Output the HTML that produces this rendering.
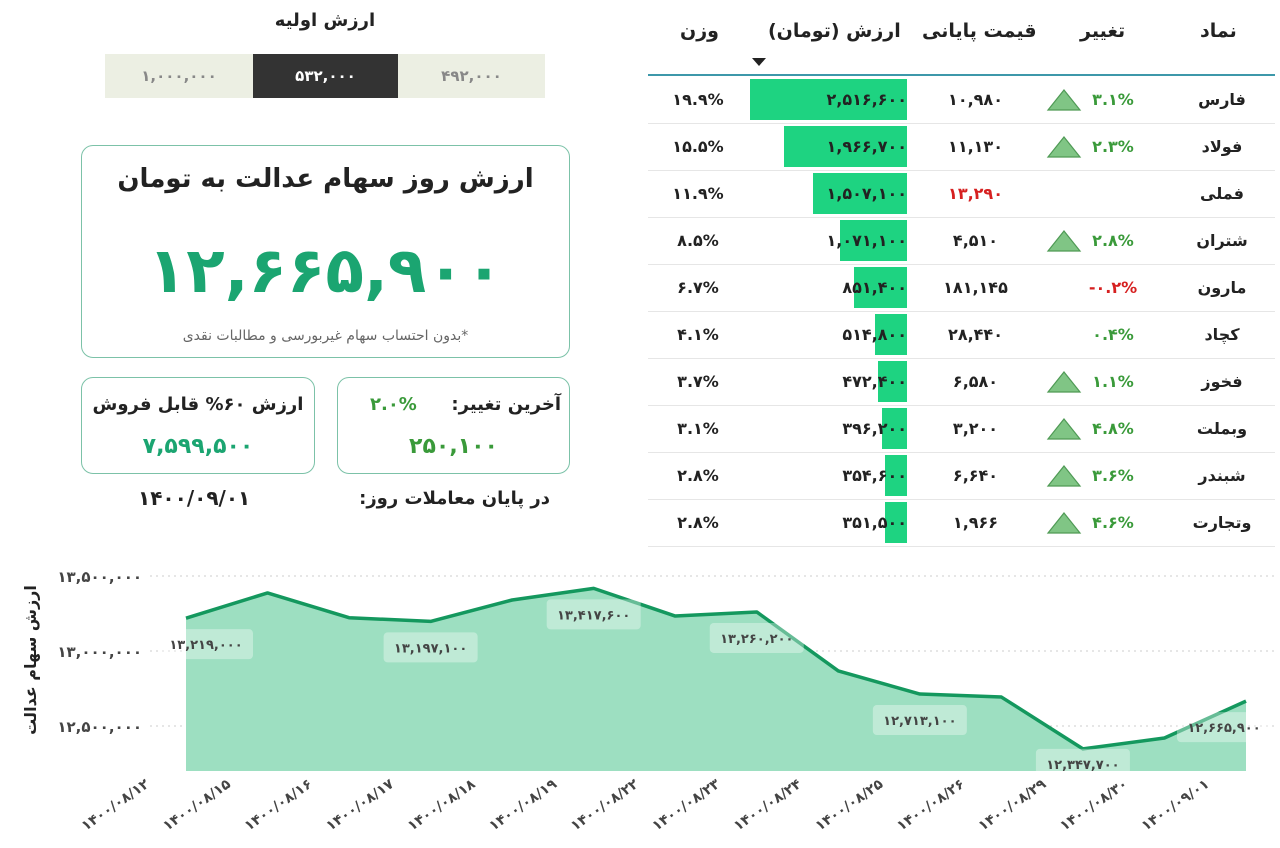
<!DOCTYPE html>
<html><head><meta charset="utf-8">
<style>
body{margin:0;width:1280px;height:848px;background:#fff;font-family:"DejaVu Sans","Liberation Sans",sans-serif;position:relative;overflow:hidden;color:#222}
.abs{position:absolute}
.c{text-align:center}
.seg{position:absolute;top:54px;height:44px;line-height:44px;text-align:center;font-size:15px;font-weight:bold}
.box{position:absolute;border:1.5px solid #7cc2a8;border-radius:12px;box-sizing:border-box}
.th{position:absolute;top:20px;font-size:19px;font-weight:bold;direction:rtl}
.row{position:absolute;left:648px;width:627px;height:47px;border-bottom:1px solid #e6e6e6}
.cell{position:absolute;top:0;height:47px;line-height:47px;font-size:16px;font-weight:bold;text-align:center;white-space:nowrap}
</style></head><body>
<div class="abs c" style="left:105px;width:440px;top:10px;font-size:18px;font-weight:bold">ارزش اولیه</div>
<div class="seg" style="left:105px;width:148px;background:#ecefe3;color:#888">۱,۰۰۰,۰۰۰</div>
<div class="seg" style="left:253px;width:145px;background:#333;color:#fff">۵۳۲,۰۰۰</div>
<div class="seg" style="left:398px;width:147px;background:#ecefe3;color:#888">۴۹۲,۰۰۰</div>

<div class="box" style="left:81px;top:145px;width:489px;height:213px">
 <div class="abs c" style="left:0;width:100%;top:18px;font-size:26px;font-weight:bold;direction:rtl">ارزش روز سهام عدالت به تومان</div>
 <div class="abs c" style="left:0;width:100%;top:88px;font-size:63px;font-weight:bold;color:#1ba571">۱۲,۶۶۵,۹۰۰</div>
 <div class="abs c" style="left:0;width:100%;top:182px;font-size:14px;color:#666;direction:rtl">*بدون احتساب سهام غیربورسی و مطالبات نقدی</div>
</div>
<div class="box" style="left:81px;top:377px;width:234px;height:97px">
 <div class="abs c" style="left:0;width:100%;top:16px;font-size:18px;font-weight:bold;direction:rtl">ارزش ۶۰% قابل فروش</div>
 <div class="abs c" style="left:0;width:100%;top:56px;font-size:22px;font-weight:bold;color:#1ba571">۷,۵۹۹,۵۰۰</div>
</div>
<div class="box" style="left:337px;top:377px;width:233px;height:97px">
 <div class="abs" style="right:8px;top:16px;font-size:18px;font-weight:bold;direction:rtl">آخرین تغییر:</div>
 <div class="abs" style="left:32px;top:16px;font-size:18px;font-weight:bold;color:#3a9a3a">۲.۰%</div>
 <div class="abs c" style="left:0;width:100%;top:56px;font-size:22px;font-weight:bold;color:#3a9a3a">۲۵۰,۱۰۰</div>
</div>
<div class="abs" style="left:138px;top:486px;font-size:20px;font-weight:bold">۱۴۰۰/۰۹/۰۱</div>
<div class="abs" style="left:320px;top:488px;width:230px;text-align:right;font-size:18px;font-weight:bold;direction:rtl;white-space:nowrap">در پایان معاملات روز:</div>

<div id="table">
<div class="th" style="left:1200px">نماد</div>
<div class="th" style="left:1080px">تغییر</div>
<div class="th" style="left:922px">قیمت پایانی</div>
<div class="th" style="left:768px">ارزش (تومان)</div>
<div class="th" style="left:680px">وزن</div>
<div class="abs" style="left:752px;top:58px;width:0;height:0;border-left:7px solid transparent;border-right:7px solid transparent;border-top:8px solid #222"></div>
<div class="abs" style="left:648px;top:74px;width:627px;height:2px;background:#3d98aa"></div>
</div>

<svg class="abs" style="left:0;top:550px" width="1280" height="298" id="chart"></svg>

<script>
const fa=s=>String(s).replace(/\d/g,d=>'۰۱۲۳۴۵۶۷۸۹'[d]);
const fmt=n=>fa(n.toLocaleString('en-US'));
// table data
const symbols=['فارس','فولاد','فملی','شتران','مارون','کچاد','فخوز','وبملت','شبندر','وتجارت'];
const changes=['3.1%','2.3%','','2.8%','-0.2%','0.4%','1.1%','4.8%','3.6%','4.6%'];
const upArrow=[1,1,0,1,0,0,1,1,1,1];
const closes=['10,980','11,130','13,290','4,510','181,145','28,440','6,580','3,200','6,640','1,966'];
const closeRed=[0,0,1,0,0,0,0,0,0,0];
const values=[2516600,1966700,1507100,1071100,851400,514800,472400,396200,354600,351500];
const weights=['19.9%','15.5%','11.9%','8.5%','6.7%','4.1%','3.7%','3.1%','2.8%','2.8%'];

const tbl=document.getElementById('table');
symbols.forEach((s,i)=>{
 const r=document.createElement('div');r.className='row';r.style.top=(76+47*i)+'px';
 
 
 const bw=values[i]*157/2516600;
 const neg=changes[i].startsWith('-');
 const chg=neg?'-'+fa(changes[i].slice(1)):fa(changes[i]);
 r.innerHTML=
 `<div class="cell" style="left:534px;width:80px;direction:rtl">${s}</div>`+
 `<div class="cell" style="left:420px;width:90px;color:${neg?'#d62020':'#3a9a3a'}">${chg}</div>`+
 (upArrow[i]?`<svg class="abs" style="left:398px;top:12px" width="36" height="24"><polygon points="18,2 34,22 2,22" fill="#80c585" stroke="#4f9a55" stroke-width="1.2"/></svg>`:'')+
 `<div class="cell" style="left:270px;width:115px;color:${closeRed[i]?'#d62020':'#222'}">${fa(closes[i])}</div>`+
 `<div class="abs" style="left:${259-bw}px;top:3px;width:${bw}px;height:41px;background:#1ed381"></div>`+
 `<div class="cell" style="left:150px;width:109px;text-align:right">${fmt(values[i])}</div>`+
 `<div class="cell" style="left:10px;width:80px">${fa(weights[i])}</div>`;
 tbl.appendChild(r);
});

// chart data
const dates=['1400/08/12','1400/08/15','1400/08/16','1400/08/17','1400/08/18','1400/08/19','1400/08/22','1400/08/23','1400/08/24','1400/08/25','1400/08/26','1400/08/29','1400/08/30','1400/09/01'];
const series=[13219000,13387000,13222000,13197100,13340000,13417600,13233000,13260200,12867000,12713100,12693000,12347700,12420000,12665900];
const labelIdx=[0,3,5,7,9,11,13];
const yTicks=[12500000,13000000,13500000];

const svg=document.getElementById('chart');const NS='http://www.w3.org/2000/svg';
const X=i=>186+i*(1246-186)/(dates.length-1);
const Y=v=>26+(13500000-v)/500000*75;
const baseY=221;
function el(t,a){const e=document.createElementNS(NS,t);for(const k in a)e.setAttribute(k,a[k]);svg.appendChild(e);return e;}
yTicks.forEach(t=>{
 const g=el('line',{x1:150,x2:1275,y1:Y(t),y2:Y(t),stroke:'#ccc','stroke-dasharray':'2,4'});
 
 
 const tx=el('text',{x:142,y:Y(t)+6,'text-anchor':'end','font-size':15,'font-weight':'bold',fill:'#444'});tx.textContent=fmt(t);
 
 
});
let d='M'+X(0)+','+baseY;series.forEach((v,i)=>d+=' L'+X(i)+','+Y(v));d+=' L'+X(series.length-1)+','+baseY+'Z';
const area=el('path',{d,fill:'#9ddfc1'});


const line=el('polyline',{points:series.map((v,i)=>X(i)+','+Y(v)).join(' '),fill:'none',stroke:'#14985e','stroke-width':3.5,'stroke-linejoin':'round'});


labelIdx.forEach(i=>{
 const cx=X(i)+(i==0?20:i==13?-22:0), cy=Y(series[i])+(i==11?15:26);
 const r=el('rect',{x:cx-47,y:cy-15,width:94,height:30,rx:4,fill:'#fff','fill-opacity':0.35});
 
 
 const t=el('text',{x:cx,y:cy+5,'text-anchor':'middle','font-size':13,'font-weight':'bold',fill:'#444'});t.textContent=fmt(series[i]);
 
 
});
dates.forEach((dt,i)=>{
 const ax=X(i)-36, ay=236;
 const t=el('text',{x:ax,y:ay,'text-anchor':'end','font-size':14,'font-weight':'bold',fill:'#444',transform:`rotate(-35 ${ax} ${ay})`});t.textContent=fa(dt);
 
 
});
const yt=el('text',{x:0,y:0,'text-anchor':'middle','font-size':16,'font-weight':'bold',fill:'#222',transform:'translate(36,110) rotate(-90)'});yt.textContent='ارزش سهام عدالت';


</script>
</body></html>
